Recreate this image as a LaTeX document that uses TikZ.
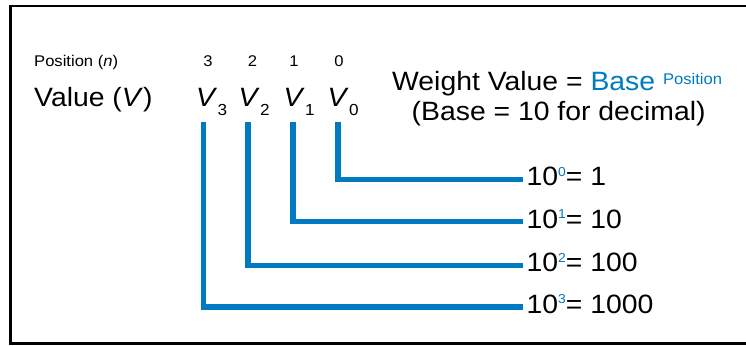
\documentclass[tikz,border=0pt]{standalone}
\usepackage{fontspec}
\setmainfont[FakeStretch=1.07]{Liberation Sans}
\definecolor{wblue}{RGB}{0,123,193}
\newcommand{\fsz}[1]{\fontsize{#1}{#1}\selectfont}
\newcommand{\vsub}[1]{\textit{V}\kern0.3pt\raisebox{-9pt}{\fsz{16}#1}}
\newcommand{\pw}[2]{10\raisebox{9.6pt}{\fsz{13}\color{wblue}#1}= #2}
\begin{document}
\begin{tikzpicture}[x=1pt,y=-1pt,
  txt/.style={inner sep=0pt,font=\fsz{26.5}},
  small/.style={inner sep=0pt,font=\fsz{15.5}},
  conn/.style={draw=wblue,line width=5.3pt},
  frame/.style={draw=black,line width=2.7pt}]
\useasboundingbox (0,0) rectangle (746,345);
\draw[frame] (746,6) -- (10.7,6) -- (10.7,343.7) -- (746,343.7);

\node[small,anchor=base west] (pos) at (34,66.7) {Position (\textit{n})};
\node[txt,anchor=base west] (val) at (34,106) {Value (\textit{V})};

\node[small,anchor=base] (d3) at (208,66.7) {3};
\node[small,anchor=base] (d2) at (252.5,66.7) {2};
\node[small,anchor=base] (d1) at (294,66.7) {1};
\node[small,anchor=base] (d0) at (339,66.7) {0};

\node[txt,anchor=base west] (v3) at (196,106) {\vsub{3}};
\node[txt,anchor=base west] (v2) at (238.5,106) {\vsub{2}};
\node[txt,anchor=base west] (v1) at (283.5,106) {\vsub{1}};
\node[txt,anchor=base west] (v0) at (327.5,106) {\vsub{0}};

\node[txt,anchor=base west] (wv) at (392,90.7)
  {Weight Value = {\color{wblue}Base} \raisebox{6.4pt}{\fsz{15.5}\color{wblue}Position}};
\node[txt,anchor=base west] (bd) at (411.5,120.7) {(Base = 10 for decimal)};

\node[txt,anchor=base west] (n0) at (526.5,185.8) {\pw{0}{1}};
\node[txt,anchor=base west] (n1) at (526.5,228.2) {\pw{1}{10}};
\node[txt,anchor=base west] (n2) at (526.5,271.8) {\pw{2}{100}};
\node[txt,anchor=base west] (n3) at (526.5,313.5) {\pw{3}{1000}};

\coordinate (t3) at (203.5,122);
\coordinate (t2) at (248,122);
\coordinate (t1) at (293,122);
\coordinate (t0) at (338,122);

\draw[conn] (t0) |- ([xshift=-3.5pt,yshift=6.5pt]n0.base west);
\draw[conn] (t1) |- ([xshift=-3.5pt,yshift=6.5pt]n1.base west);
\draw[conn] (t2) |- ([xshift=-3.5pt,yshift=6.5pt]n2.base west);
\draw[conn] (t3) |- ([xshift=-3.5pt,yshift=6.5pt]n3.base west);
\end{tikzpicture}
\end{document}
